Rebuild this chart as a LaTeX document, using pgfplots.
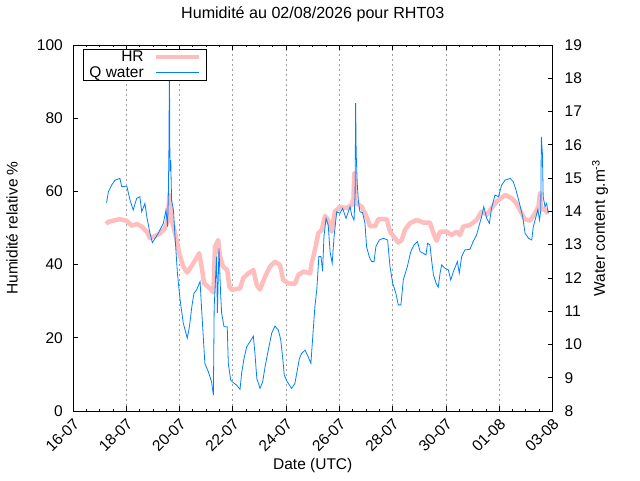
\documentclass[border=0pt]{standalone}
\usepackage{fontspec}
\setmainfont{Liberation Sans}
\usepackage{pgfplots}
\pgfplotsset{compat=1.18}
\definecolor{hrpink}{RGB}{255,190,190}
\definecolor{qblue}{RGB}{0,128,255}
\newcommand{\gfont}{\fontsize{15.5}{18}\selectfont}
\begin{document}
\begin{tikzpicture}[font=\gfont]
\useasboundingbox (0,0) rectangle (640pt,480pt);
\begin{axis}[
  at={(73pt,69pt)}, anchor=south west,
  width=479.5pt, height=366pt, scale only axis,
  xmin=0, xmax=18, ymin=0, ymax=100,
  xtick={0,2,...,18},
  xticklabels={16-07,18-07,20-07,22-07,24-07,26-07,28-07,30-07,01-08,03-08},
  minor x tick num=3,
  ytick={0,20,...,100},
  ytick pos=left,
  tick align=inside,
  major tick length=5pt, minor tick length=2.5pt,
  every tick/.style={black, line width=0.8pt},
  axis line style={line width=0.9pt},
  xmajorgrids,
  major x grid style={gray!75, dash pattern=on 2pt off 3pt, line width=0.8pt},
  /pgf/number format/assume math mode=true,
  ticklabel style={font=\gfont},
  label style={font=\gfont},
  title style={font=\fontsize{16.1}{18}\selectfont, at={(axis description cs:0.5,1.068)}, anchor=center},
  title={Humidité au 02/08/2026 pour RHT03},
  xticklabel style={xshift=-0.5pt, yshift=-6pt, rotate=45, anchor=north east, inner sep=0pt},
  yticklabel style={anchor=east, inner sep=0pt, xshift=-10pt},
  xlabel={Date (UTC)},
  xlabel style={at={(axis description cs:0.5,-0.150)}, anchor=center},
  ylabel={Humidité relative \%},
  ylabel style={at={(axis description cs:-0.127,0.5)}, anchor=center},
]
\addplot[hrpink, line width=4.5pt, line join=round] coordinates {
(1.24,51.1) (1.33,51.7) (1.76,52.4) (2.01,52.0) (2.2,50.6) (2.39,51.1) (2.58,50.4) (2.77,49.0) (2.89,47.2) (3.02,47.6) (3.27,48.5) (3.45,49.9) (3.55,52) (3.62,59) (3.7,52) (3.77,50.4) (3.89,46.7) (3.99,43.1) (4.14,39.4) (4.29,37.8) (4.52,40.4) (4.74,43.1) (4.83,39.4) (4.92,34.9) (5.14,33.5) (5.27,32.4) (5.33,44.9) (5.45,46.7) (5.52,42.2) (5.64,39.4) (5.79,38.5) (5.87,34.0) (5.96,33.1) (6.27,33.5) (6.39,36.3) (6.58,37.6) (6.77,38.5) (6.9,34.4) (7.02,33.2) (7.21,36.7) (7.39,39.4) (7.58,40.8) (7.77,39.9) (7.89,35.8) (8.08,34.9) (8.33,34.7) (8.46,37.2) (8.65,38.1) (8.9,37.6) (8.96,40.4) (9.08,44.0) (9.21,48.6) (9.34,49.5) (9.46,53.3) (9.58,52.2) (9.71,49.0) (9.83,54.5) (10.02,55.8) (10.27,55.4) (10.46,56.3) (10.53,58) (10.56,64.9) (10.6,57) (10.65,56.7) (10.84,55.8) (11.02,53.1) (11.15,50.5) (11.34,50.5) (11.46,52.4) (11.78,52.4) (11.9,49.0) (12.09,47.2) (12.21,46.0) (12.34,46.7) (12.46,49.5) (12.65,51.3) (12.9,52.2) (13.15,51.5) (13.4,51.5) (13.53,48.6) (13.65,46.5) (13.78,49.0) (14.03,49.0) (14.21,48.1) (14.4,49.0) (14.53,48.1) (14.65,50.4) (14.9,50.8) (15.15,52.2) (15.34,54.5) (15.53,53.6) (15.71,55.4) (15.9,57.2) (16.22,59.0) (16.47,58.1) (16.65,56.7) (16.84,54.0) (16.97,52.4) (17.16,52.0) (17.34,54.0) (17.47,55.8) (17.53,59.5) (17.58,55) (17.65,55.4) (17.84,54.0)
};
\end{axis}
\begin{axis}[
  at={(73pt,69pt)}, anchor=south west,
  width=479.5pt, height=366pt, scale only axis,
  xmin=0, xmax=18, ymin=8, ymax=19,
  axis x line=none, axis y line*=right,
  ytick={8,9,...,19},
  tick align=inside,
  major tick length=5pt,
  every tick/.style={black, line width=0.8pt},
  axis line style={line width=0.9pt, -},
  /pgf/number format/assume math mode=true,
  ticklabel style={font=\gfont},
  label style={font=\gfont},
  yticklabel style={anchor=west, inner sep=0pt, xshift=12pt},
  ylabel={Water content g.m\textsuperscript{-3}},
  ylabel style={at={(axis description cs:1.099,0.5)}, anchor=center, rotate=0},
  legend style={at={(axis description cs:0.0209,0.989)}, anchor=north west,
    draw=black, line width=0.8pt, fill=white, font=\gfont,
    inner xsep=6pt, inner ysep=0pt, row sep=0pt, column sep=10pt,
    nodes={inner xsep=0pt, inner ysep=0pt, text height=12.5pt, text depth=3pt}},
  legend cell align=right, legend plot pos=right,
  legend image code/.code={\draw[#1] (0pt,0pt) -- (43pt,0pt);},
]
\addlegendimage{hrpink, line width=4pt}
\addlegendentry{HR}
\addplot[qblue, line width=0.8pt] coordinates {
(1.26,14.26) (1.33,14.59) (1.45,14.79) (1.58,14.94) (1.76,14.99) (1.83,14.74) (2.02,14.76) (2.14,14.34) (2.26,14.04) (2.39,14.39) (2.51,14.44) (2.58,13.99) (2.7,14.24) (2.77,13.84) (2.89,13.34) (2.98,13.06) (3.2,13.34) (3.39,13.64) (3.49,14.04) (3.55,13.54) (3.58,14.5) (3.6,15.84) (3.62,18.4) (3.64,15.2) (3.67,15.54) (3.7,14.34) (3.77,14.04) (3.83,13.24) (3.92,12.14) (4.02,11.34) (4.14,10.64) (4.29,10.19) (4.37,10.53) (4.46,11.13) (4.54,11.54) (4.64,11.64) (4.77,11.89) (4.83,11.04) (4.95,9.43) (5.08,9.18) (5.2,8.88) (5.27,8.48) (5.3,11.13) (5.39,12.64) (5.42,10.94) (5.48,12.89) (5.54,11.54) (5.58,10.94) (5.67,10.53) (5.79,10.53) (5.83,9.43) (5.92,8.93) (6.02,8.85) (6.14,8.78) (6.27,8.65) (6.33,9.13) (6.42,9.58) (6.52,9.93) (6.64,10.08) (6.77,10.25) (6.83,9.73) (6.9,8.98) (7.02,8.68) (7.12,8.88) (7.21,9.33) (7.33,9.83) (7.46,10.34) (7.58,10.55) (7.71,10.43) (7.8,10.13) (7.88,9.53) (7.93,9.08) (8.04,8.88) (8.21,8.68) (8.33,8.83) (8.42,9.23) (8.5,9.58) (8.58,9.73) (8.71,9.83) (8.83,9.63) (8.93,9.43) (9.0,10.23) (9.08,11.13) (9.15,11.64) (9.23,12.64) (9.31,12.64) (9.37,12.2) (9.42,13.24) (9.5,13.79) (9.58,13.59) (9.65,12.79) (9.73,12.44) (9.8,13.24) (9.9,13.99) (10.02,13.94) (10.12,14.09) (10.25,13.79) (10.4,14.14) (10.46,13.89) (10.55,13.74) (10.59,14.54) (10.61,17.25) (10.63,15.75) (10.67,14.84) (10.71,14.34) (10.77,13.99) (10.87,13.96) (10.96,13.64) (11.02,12.94) (11.12,12.64) (11.21,12.49) (11.3,12.49) (11.37,12.94) (11.5,13.14) (11.65,13.19) (11.81,13.14) (11.9,12.34) (12.0,11.84) (12.12,11.54) (12.21,11.19) (12.31,11.19) (12.4,11.94) (12.55,12.34) (12.68,12.79) (12.8,12.99) (12.93,13.09) (13.03,12.79) (13.15,12.74) (13.25,12.69) (13.31,13.04) (13.4,12.99) (13.46,12.54) (13.53,12.09) (13.63,11.84) (13.71,11.72) (13.78,12.14) (13.84,12.39) (13.96,12.29) (14.09,12.24) (14.18,11.94) (14.28,12.19) (14.43,12.49) (14.5,12.14) (14.59,12.64) (14.71,12.84) (14.9,12.86) (15.02,13.09) (15.15,13.29) (15.25,13.59) (15.34,13.84) (15.42,14.14) (15.53,13.79) (15.63,13.64) (15.71,14.09) (15.84,14.49) (15.97,14.44) (16.09,14.79) (16.22,14.94) (16.41,14.99) (16.53,14.89) (16.63,14.64) (16.76,14.24) (16.88,13.84) (16.97,13.34) (17.1,13.19) (17.22,13.14) (17.28,13.54) (17.38,13.84) (17.45,14.06) (17.51,13.74) (17.56,14.04) (17.58,16.24) (17.62,15.75) (17.65,14.44) (17.72,14.14) (17.78,14.24) (17.84,13.94)
};
\addlegendentry{Q water}
\end{axis}
\end{tikzpicture}
\end{document}
